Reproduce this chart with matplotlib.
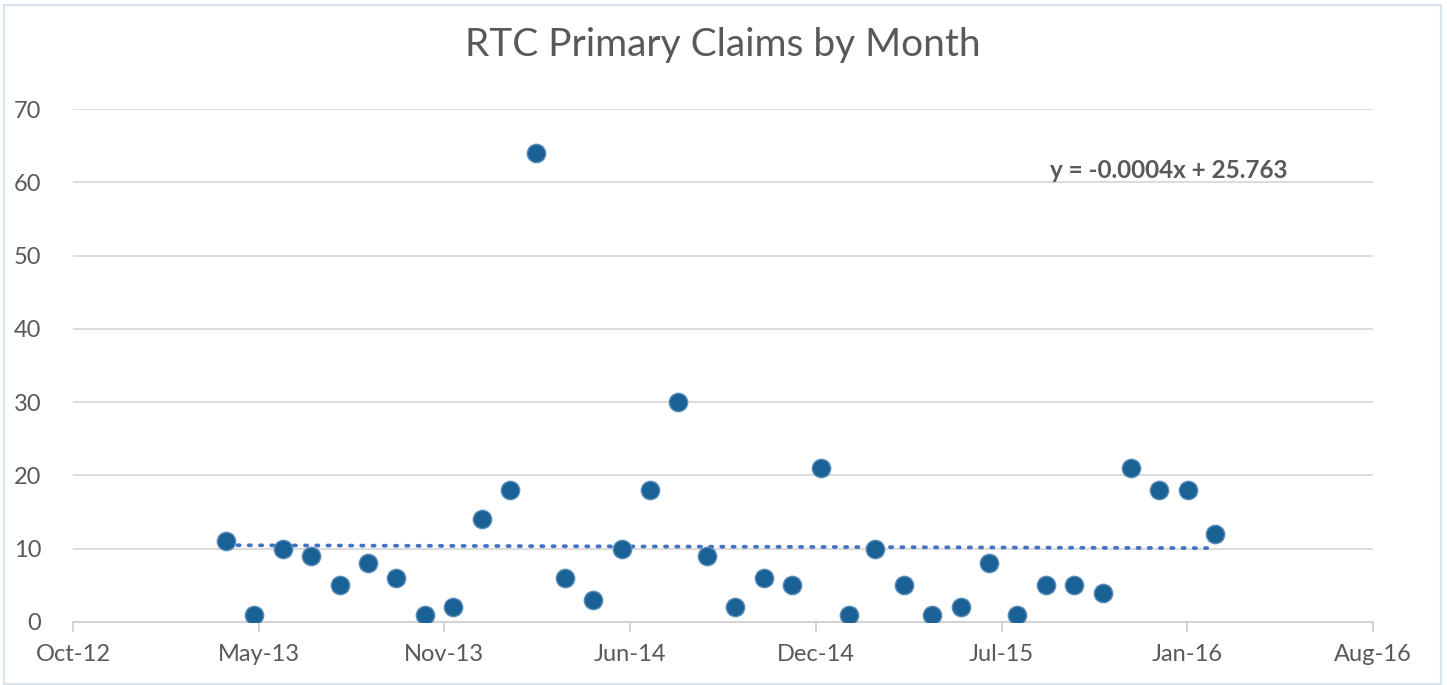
import matplotlib
matplotlib.use("Agg")
import matplotlib.pyplot as plt
import matplotlib.dates as mdates
import numpy as np
import pandas as pd
from matplotlib.patches import Rectangle

# monthly claims, Apr 2013 .. Mar 2016
months = pd.date_range("2013-04-01", periods=36, freq="MS")
claims = [11, 1, 10, 9, 5, 8, 6, 1, 2, 14, 18, 64,
          6, 3, 10, 18, 30, 9, 2, 6, 5, 21, 1, 10,
          5, 1, 2, 8, 1, 5, 5, 4, 21, 18, 18, 12]
yticks = [0, 10, 20, 30, 40, 50, 60, 70]
# Excel date axis: min 41200, major unit 200 days
xtick_dates = pd.date_range("2012-10-18", periods=8, freq="200D")
equation = "y = -0.0004x + 25.763"

plt.rcParams['font.family'] = ['Lato', 'DejaVu Sans']
grey = '#595959'

fig = plt.figure(figsize=(14.47, 6.85), dpi=100)
ax = fig.add_axes([73/1447, 1-622/685, 1300/1447, 513/685])

xnum = mdates.date2num(months)
ax.scatter(xnum, claims, s=175, color='#1A6296', edgecolor='#5B8DB8',
           linewidth=1.0, zorder=3)

# linear trendline
k, b = np.polyfit(xnum, claims, 1)
ax.plot([xnum[0], xnum[-1]], [k*xnum[0]+b, k*xnum[-1]+b], color='#4472C4',
        linestyle=(0, (0.6, 2.4)), dash_capstyle='round', linewidth=2.7,
        zorder=2)

ax.set_xlim(mdates.date2num(xtick_dates[0]), mdates.date2num(xtick_dates[-1]))
ax.set_ylim(0, 70)
ax.set_xticks(mdates.date2num(xtick_dates))
ax.set_xticklabels([d.strftime("%b-%y") for d in xtick_dates])
ax.set_yticks(yticks)
ax.yaxis.grid(True, color='#D9D9D9', linewidth=1.3)
ax.set_axisbelow(True)
for s in ['top', 'right', 'left']:
    ax.spines[s].set_visible(False)
ax.spines['bottom'].set_color('#D0D0D0')
ax.spines['bottom'].set_linewidth(1.3)
ax.tick_params(axis='x', colors='#D0D0D0', length=7, width=1.3, labelcolor=grey,
               labelsize=17, pad=9)
ax.tick_params(axis='y', length=0, labelcolor=grey, labelsize=17, pad=23)

ax.text(1050/1447, 1-170/685, equation, transform=fig.transFigure,
        fontsize=17.5, fontweight='bold', color=grey, va='center')
fig.text(723/1447, 1-45/685, "RTC Primary Claims by Month", ha='center',
         va='center', fontsize=28, color=grey)

fig.patches.append(Rectangle((4/1447, 0.002), 1437/1447, 0.99,
                             transform=fig.transFigure, fill=False,
                             edgecolor='#D6E4EE', linewidth=1.5))

fig.savefig('out.png', dpi=100)
